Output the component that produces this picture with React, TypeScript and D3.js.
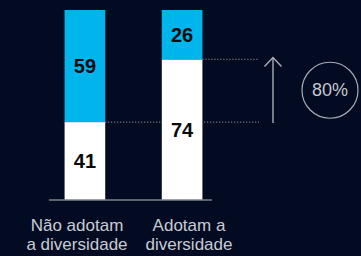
import React, { useEffect, useRef } from "react";
import * as d3 from "d3";

// 100% stacked bars: share of companies, with the 80% lift called out on the right.
const categories = ["nao", "sim"];
const labelLines = [
  ["Não adotam", "a diversidade"],
  ["Adotam a", "diversidade"],
];
const whiteValues = [41, 74];
const cyanValues = [59, 26];
const liftLabel = "80%";

const W = 361;
const H = 256;
const BG = "#020b22";
const CYAN = "#00b4ec";
const FONT = "'Liberation Sans', Arial, Helvetica, sans-serif";

export default function App() {
  const ref = useRef<SVGSVGElement | null>(null);

  useEffect(() => {
    const svg = d3.select(ref.current);
    svg.selectAll("*").remove();

    const x = d3
      .scaleBand<string>()
      .domain(categories)
      .range([50, 217])
      .paddingInner(0.582)
      .paddingOuter(0.15);
    const y = d3.scaleLinear().domain([0, 100]).range([200, 10]);
    const labelX = d3.scalePoint<string>().domain(categories).range([77, 189]);
    const bw = x.bandwidth();

    svg.append("rect").attr("width", W).attr("height", H).attr("fill", BG);

    const x0 = x(categories[0])!;
    const x1 = x(categories[1])!;
    const guideEnd = 259;

    // dotted guides from the top of each white segment
    const dotted = (xa: number, xb: number, yy: number) =>
      svg
        .append("line")
        .attr("x1", xa)
        .attr("x2", xb)
        .attr("y1", yy)
        .attr("y2", yy)
        .attr("stroke", "#8a8f9a")
        .attr("stroke-width", 1.2)
        .attr("stroke-dasharray", "1 2");
    dotted(x0 + bw, guideEnd, y(whiteValues[0]));
    dotted(x1 + bw, guideEnd, y(whiteValues[1]));

    // bars
    categories.forEach((c, i) => {
      const bx = x(c)!;
      svg
        .append("rect")
        .attr("x", bx)
        .attr("width", bw)
        .attr("y", y(whiteValues[i]))
        .attr("height", y(0) - y(whiteValues[i]))
        .attr("fill", "#ffffff");
      svg
        .append("rect")
        .attr("x", bx)
        .attr("width", bw)
        .attr("y", y(whiteValues[i] + cyanValues[i]))
        .attr("height", y(whiteValues[i]) - y(whiteValues[i] + cyanValues[i]))
        .attr("fill", CYAN);

      const vals = [
        [whiteValues[i], (y(0) + y(whiteValues[i])) / 2],
        [cyanValues[i], (y(whiteValues[i]) + y(whiteValues[i] + cyanValues[i])) / 2],
      ];
      vals.forEach(([v, cy]) => {
        svg
          .append("text")
          .attr("x", bx + bw / 2)
          .attr("y", cy + 2)
          .attr("text-anchor", "middle")
          .attr("dominant-baseline", "middle")
          .attr("font-family", FONT)
          .attr("font-weight", "bold")
          .attr("font-size", 20)
          .attr("fill", "#0a0a0a")
          .text(v);
      });

      labelLines[i].forEach((line, k) => {
        svg
          .append("text")
          .attr("x", labelX(c)!)
          .attr("y", 231 + k * 19)
          .attr("text-anchor", "middle")
          .attr("font-family", FONT)
          .attr("font-size", 17)
          .attr("fill", "#c9ccd2")
          .text(line);
      });
    });

    // baseline
    svg
      .append("line")
      .attr("x1", 49)
      .attr("x2", 212)
      .attr("y1", y(0))
      .attr("y2", y(0))
      .attr("stroke", "#7d828c")
      .attr("stroke-width", 1.5);

    // arrow
    const ax = 273;
    const yTop = y(whiteValues[1]) - 2;
    const yBot = y(whiteValues[0]) + 1;
    svg
      .append("line")
      .attr("x1", ax)
      .attr("x2", ax)
      .attr("y1", yBot)
      .attr("y2", yTop)
      .attr("stroke", "#a9adb5")
      .attr("stroke-width", 1.4);
    svg
      .append("path")
      .attr("d", d3.line()([[ax - 8.5, yTop + 9], [ax, yTop], [ax + 8.5, yTop + 9]]))
      .attr("fill", "none")
      .attr("stroke", "#a9adb5")
      .attr("stroke-width", 1.4);

    // circle callout
    const cy = (yTop + yBot) / 2;
    svg
      .append("circle")
      .attr("cx", 330)
      .attr("cy", cy)
      .attr("r", 28)
      .attr("fill", "none")
      .attr("stroke", "#a9adb5")
      .attr("stroke-width", 1.2);
    svg
      .append("text")
      .attr("x", 330)
      .attr("y", cy + 1)
      .attr("text-anchor", "middle")
      .attr("dominant-baseline", "middle")
      .attr("font-family", FONT)
      .attr("font-size", 18)
      .attr("fill", "#c4c7cd")
      .text(liftLabel);
  }, []);

  return (
    <div style={{ position: "fixed", left: 0, top: 0, width: W, height: H }}>
      <svg ref={ref} width={W} height={H} style={{ display: "block" }} />
    </div>
  );
}
